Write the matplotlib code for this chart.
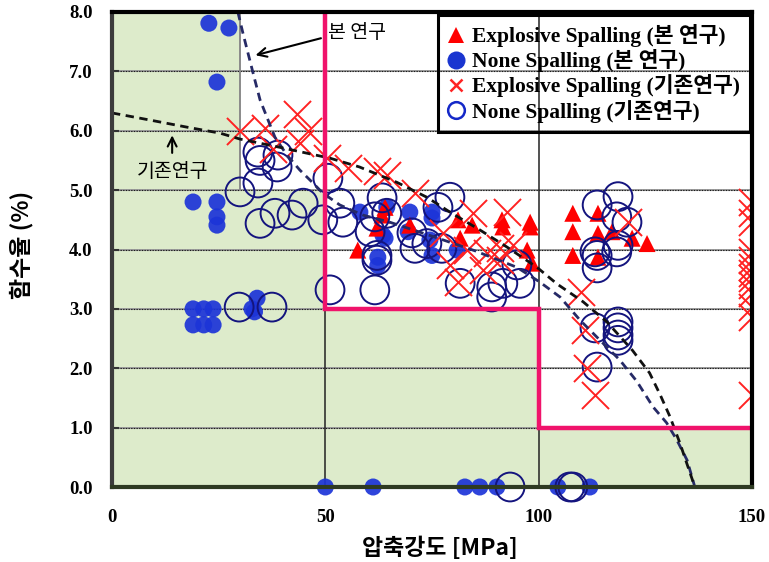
import matplotlib
matplotlib.use("Agg")
import matplotlib.pyplot as plt
from matplotlib.lines import Line2D
from matplotlib.patches import Rectangle
from matplotlib.font_manager import FontProperties

# ---- data -------------------------------------------------------------
# this study: none spalling (filled circles)
ns_x = [22.7, 27.4, 24.6, 19.0, 24.6, 24.6, 24.6, 19.0, 21.5, 23.7, 19.0, 21.5, 23.7, 34.0, 32.8, 33.4,
        58.1, 64.4, 63.5, 64.0, 62.3, 62.3, 69.8, 69.4, 75.0, 75.0, 74.5, 75.0, 80.9,
        50.0, 61.2, 82.7, 86.2, 90.2, 104.5, 112.0]
ns_y = [7.81, 7.73, 6.82, 4.80, 4.80, 4.55, 4.41, 3.00, 3.00, 3.00, 2.73, 2.73, 2.73, 3.18, 3.00, 2.95,
        4.63, 4.71, 4.24, 4.19, 3.87, 3.73, 4.63, 4.30, 4.63, 4.53, 4.16, 3.90, 3.99,
        0.0, 0.0, 0.0, 0.0, 0.0, 0.0, 0.0]

# this study: explosive spalling (triangles)
es_x = [57.6, 62.1, 63.3, 64.0, 69.8, 81.1, 84.4, 81.6, 91.4, 91.6, 98.0, 98.0, 97.3, 98.4,
        108.0, 108.0, 108.0, 113.9, 113.9, 113.9, 117.2, 121.9, 125.4]
es_y = [3.99, 4.36, 4.58, 4.71, 4.41, 4.50, 4.41, 4.19, 4.50, 4.38, 4.46, 4.38, 3.99, 3.77,
        4.61, 4.30, 3.90, 4.61, 4.27, 3.87, 4.30, 4.19, 4.10]

# previous studies: explosive spalling (x marks)
pe_x = [30.0, 35.9, 43.4, 46.0, 44.0, 37.8, 50.4, 55.3, 62.0, 64.5, 71.0, 84.6, 92.6, 77.6,
        83.2, 87.9, 90.9, 94.0, 86.9, 79.2, 81.1, 90.9, 121.0, 109.9, 110.8, 111.3, 113.2,
        150, 150, 150, 150, 150, 150, 150, 150, 150, 150, 150, 150, 150]
pe_y = [6.00, 6.04, 6.29, 6.00, 5.79, 5.70, 5.54, 5.37, 5.32, 5.25, 4.95, 4.61, 4.63, 4.28,
        3.99, 3.94, 4.02, 4.07, 3.65, 3.74, 3.45, 3.82, 4.46, 3.28, 2.64, 2.00, 1.55,
        4.80, 4.61, 4.46, 3.96, 3.82, 3.70, 3.60, 3.52, 3.40, 3.27, 3.03, 2.86, 1.55]

# previous studies: none spalling (open circles)
pn_x = [34.2, 34.7, 38.9, 38.7, 30.0, 34.2, 50.6, 34.7, 38.2, 42.2, 44.8, 49.4, 53.4, 54.1,
        29.8, 37.5, 51.1,
        63.3, 64.4, 61.6, 60.5, 62.1, 62.1, 70.3, 71.0, 73.8, 77.3, 76.4, 79.2, 61.6, 81.6,
        89.0, 91.6, 95.6, 94.9, 89.0,
        113.7, 118.6, 118.3, 120.7, 113.2, 113.7, 113.7, 118.6, 118.3, 113.2, 118.6, 118.6,
        118.6, 118.6, 113.7,
        93.3, 107.3, 108.0]
pn_y = [5.64, 5.50, 5.59, 5.39, 4.97, 5.12, 5.20, 4.44, 4.61, 4.58, 4.78, 4.50, 4.78, 4.46,
        3.03, 3.03, 3.32,
        4.87, 4.61, 4.55, 4.30, 3.90, 3.82, 4.28, 4.02, 4.10, 4.02, 4.71, 4.88, 3.32, 3.43,
        3.37, 3.43, 3.43, 3.74, 3.20,
        4.75, 4.89, 4.55, 4.46, 3.96, 3.90, 3.69, 4.07, 3.96, 2.68, 2.78, 2.68,
        2.56, 2.47, 2.02,
        0.0, 0.0, 0.0]

# boundary curve, this study
cur_x = [29.5, 30.7, 31.9, 33.5, 34.7, 36.3, 38.2, 41.0, 44.0, 47.1, 49.4, 53.4, 58.8, 65.1,
         75.2, 85.0, 94.9, 100.3, 105.0, 109.7, 114.4, 119.0, 123.0, 126.8, 130.0, 132.4,
         134.8, 136.6]
cur_y = [8.00, 7.64, 7.30, 6.85, 6.52, 6.23, 5.89, 5.59, 5.34, 5.12, 4.95, 4.75, 4.58, 4.46,
         4.22, 3.98, 3.70, 3.45, 3.20, 2.81, 2.47, 2.14, 1.78, 1.35, 1.08, 0.79,
         0.45, 0.00]

# boundary curve, previous studies
prev_x = [0.0, 8.9, 17.6, 25.3, 30.0, 39.4, 47.1, 51.0, 58.0, 66.8, 73.8, 79.2, 86.2, 92.6,
          99.6, 104.3, 110.4, 116.0, 122.0, 126.0, 128.5, 130.8, 133.1, 136.6]
prev_y = [6.30, 6.18, 6.06, 5.96, 5.86, 5.72, 5.60, 5.54, 5.39, 5.13, 4.88, 4.63, 4.33, 4.04,
          3.70, 3.42, 3.12, 2.78, 2.30, 1.92, 1.55, 1.18, 0.74, 0.00]

# safe zone (step) and criterion line
zone_x = [0, 30, 50, 100, 150]
zone_y = [8, 5, 3, 1, 1]
crit_x = [50, 50, 100, 100, 150]
crit_y = [8, 3, 3, 1, 1]

x_ticks = [0, 50, 100, 150]
y_ticks = [0, 1, 2, 3, 4, 5, 6, 7, 8]

# ---- figure -----------------------------------------------------------
fig = plt.figure(figsize=(7.69, 5.62), dpi=100)
ax = fig.add_axes([112 / 769, 1 - 487 / 562, 640 / 769, 475 / 562])
ax.set_xlim(0, 150)
ax.set_ylim(0, 8)

green = '#ddebcb'
ax.fill_between(zone_x, zone_y, 0, step='post', color=green, lw=0, zorder=0.5)

# grid
for yv in y_ticks[1:-1]:
    ax.axhline(yv, color='#9a9a9a', lw=1.4, zorder=1)
    ax.axhline(yv, color='#1a1a1a', lw=0.8, ls=(0, (1.2, 1.2)), zorder=1.1)
ax.axvline(50, color='#222222', lw=1.1, zorder=1.2)
ax.axvline(100, color='#222222', lw=1.1, zorder=1.2)
ax.plot([30, 30], [5, 8], color='#8a8a8a', lw=1.4, zorder=1.2)

# markers
ax.scatter(ns_x, ns_y, s=150, marker='o', color='#1c34d8', alpha=0.92,
           edgecolors='none', zorder=3, clip_on=False)
ax.scatter(es_x, es_y, s=150, marker='^', color='#ff0000', edgecolors='none', zorder=4)
ax.scatter(pn_x, pn_y, s=430, marker='o', facecolors='none', edgecolors='#14147e',
           linewidths=1.4, zorder=5, clip_on=False)
ax.scatter(pe_x, pe_y, s=380, marker='x', color='#ff2222', linewidths=1.4, zorder=6)

# boundary curves
l1, = ax.plot(cur_x, cur_y, color='#262a66', lw=2.0, zorder=7)
l1.set_dashes([3, 2])
l2, = ax.plot(prev_x, prev_y, color='#111111', lw=2.0, zorder=7)
l2.set_dashes([3, 2])

# criterion line
ax.plot(crit_x, crit_y, color='#f0136b', lw=3.2, zorder=8, solid_joinstyle='miter')

# annotations
kfont = 'Noto Sans CJK KR'
ax.annotate('', xy=(33.0, 7.26), xytext=(49.6, 7.57),
            arrowprops=dict(arrowstyle='->', lw=1.5, color='black', mutation_scale=16), zorder=9)
ax.text(57.4, 7.65, '본 연구', fontfamily=kfont, fontsize=14, ha='center', va='center', zorder=9)
ax.annotate('', xy=(14.1, 5.97), xytext=(14.1, 5.58),
            arrowprops=dict(arrowstyle='->', lw=1.5, color='black', mutation_scale=16), zorder=9)
ax.text(14.1, 5.31, '기존연구', fontfamily=kfont, fontsize=14, ha='center', va='center', zorder=9)

# axes styling
ax.set_xticks(x_ticks)
ax.set_xticklabels([str(v) for v in x_ticks])
ax.set_yticks(y_ticks)
ax.set_yticklabels([f'{v:.1f}' for v in y_ticks])
tick_font = dict(family='Liberation Serif', weight='bold', size=13.5)
for lab in ax.get_xticklabels() + ax.get_yticklabels():
    lab.set_fontproperties(FontProperties(**tick_font))
ax.tick_params(axis='y', direction='in', length=5, width=1.5, pad=14, color='#333333')
ax.tick_params(axis='x', length=0, pad=16)

ax.spines['left'].set(linewidth=3, color='#3c3c3c')
ax.spines['bottom'].set(linewidth=3, color='#2e3a22')
ax.spines['top'].set(linewidth=3, color='black')
ax.spines['right'].set(linewidth=3, color='black')
for sp in ax.spines.values():
    sp.set_zorder(10)

fig.text(440 / 769, 1 - 548 / 562, '압축강도 [MPa]', fontfamily=kfont, fontweight='bold',
         fontsize=16.5, ha='center', va='center')
fig.text(22 / 769, 1 - 245 / 562, '함수율 (%)', fontfamily=kfont, fontweight='bold',
         fontsize=16.5, ha='center', va='center', rotation=90)

# legend
handles = [
    Line2D([], [], ls='none', marker='^', markersize=12, color='#ff0000', markeredgewidth=0),
    Line2D([], [], ls='none', marker='o', markersize=13, color='#1a35d0', markeredgewidth=0),
    Line2D([], [], ls='none', marker='x', markersize=8, color='#ff2222', markeredgewidth=1.8),
    Line2D([], [], ls='none', marker='o', markersize=12, markerfacecolor='none',
           markeredgecolor='#1428c8', markeredgewidth=1.8),
]
labels = ['Explosive Spalling (본 연구)', 'None Spalling (본 연구)',
          'Explosive Spalling (기존연구)', 'None Spalling (기존연구)']
leg = ax.legend(handles, labels, loc='upper right', bbox_to_anchor=(0.992, 0.988),
                borderaxespad=0, frameon=True, fancybox=False, framealpha=0,
                edgecolor='black', handlelength=0.8, handletextpad=0.35,
                labelspacing=0.1, borderpad=0.3,
                prop=FontProperties(family=['Liberation Serif', kfont],
                                    weight='bold', size=15.5))
leg.get_frame().set_linewidth(1.3)
leg.set_zorder(11)

# second (outer) frame line around the legend
fig.canvas.draw()
bb = leg.get_window_extent().transformed(fig.transFigure.inverted())
pad_x, pad_y = 3 / 769, 3 / 562
fig.patches.append(Rectangle((bb.x0 - pad_x, bb.y0 - pad_y), bb.width + 2 * pad_x,
                             bb.height + 2 * pad_y, transform=fig.transFigure,
                             fill=False, lw=2.2, edgecolor='black', zorder=12))

fig.savefig('out.png', dpi=100)
